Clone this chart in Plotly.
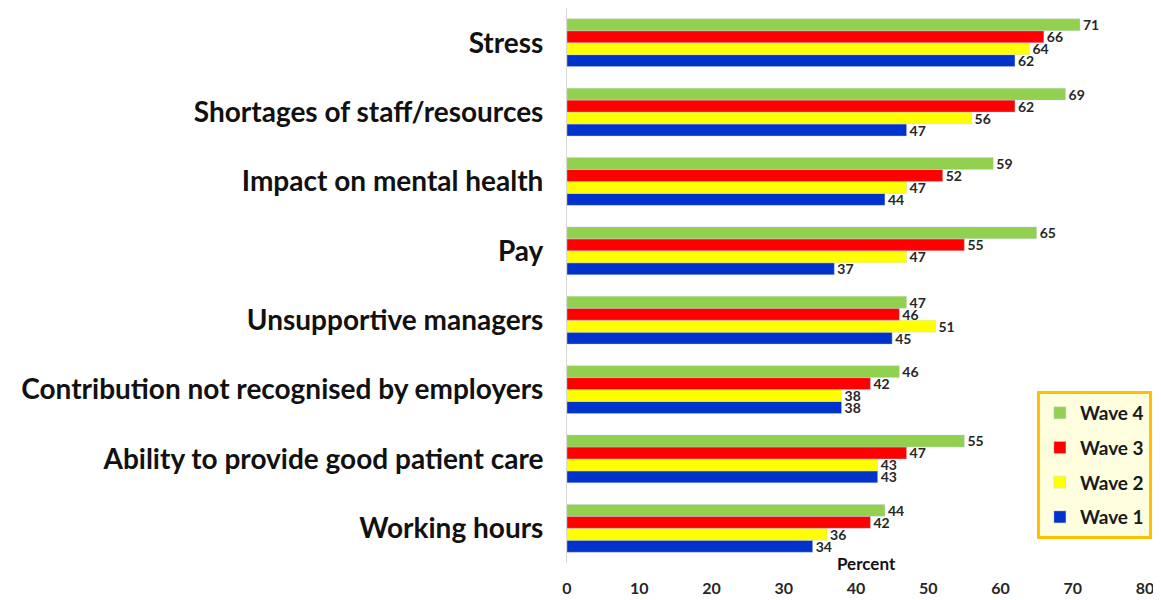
import plotly.graph_objects as go

categories = ["Stress", "Shortages of staff/resources", "Impact on mental health", "Pay",
              "Unsupportive managers", "Contribution not recognised by employers",
              "Ability to provide good patient care", "Working hours"]
wave1 = [62, 47, 44, 37, 45, 38, 43, 34]
wave2 = [64, 56, 47, 47, 51, 38, 43, 36]
wave3 = [66, 62, 52, 55, 46, 42, 47, 42]
wave4 = [71, 69, 59, 65, 47, 46, 55, 44]
x_ticks = [0, 10, 20, 30, 40, 50, 60, 70, 80]

series = [("Wave 1", wave1, "#0033CC"), ("Wave 2", wave2, "#FFFF00"),
          ("Wave 3", wave3, "#FF0000"), ("Wave 4", wave4, "#92D050")]

font = "Lato"

fig = go.Figure()
for i, (name, vals, col) in enumerate(series):
    fig.add_trace(go.Bar(
        y=categories, x=vals, name=name, orientation="h",
        marker=dict(color=col, line=dict(color="rgba(200,210,230,0.8)", width=0.5)),
        text=vals, textposition="outside", cliponaxis=False, constraintext="none",
        textfont=dict(family=font, size=14, color="#262626", weight="bold"),
        legendgroup=name, legendrank=10 - i,
    ))

# page body adds an 8px margin, so the figure is sized 8px smaller
fig.update_layout(
    width=1153, height=592,
    margin=dict(l=559, r=16, t=0, b=37, autoexpand=False),
    barmode="group", bargap=0.31, bargroupgap=0,
    plot_bgcolor="white", paper_bgcolor="white",
    font=dict(family=font, color="#262626"),
    showlegend=True,
    legend=dict(
        x=0.813, y=0.31, xanchor="left", yanchor="top",
        bgcolor="#FFFFE0", bordercolor="#FFC000", borderwidth=3,
        traceorder="grouped", tracegroupgap=7,
        font=dict(family=font, size=19, color="#1a1a1a", weight="bold"),
        itemwidth=30,
    ),
    xaxis=dict(
        range=[0, 80], tickvals=x_ticks, showgrid=False, zeroline=False,
        showline=False, ticks="", ticklabelstandoff=14, automargin=False,
        tickfont=dict(family=font, size=16, color="#262626", weight="bold"),
    ),
    yaxis=dict(
        categoryorder="array", categoryarray=categories[::-1],
        showline=True, linecolor="#d9d9d9", linewidth=1, ticks="",
        ticklabelstandoff=17, automargin=False,
        tickfont=dict(family=font, size=28, color="#111111", weight="bold"),
    ),
    annotations=[dict(
        text="Percent", xref="x", yref="paper", x=41.5, y=0, yanchor="middle",
        showarrow=False, font=dict(family=font, size=17, color="#111111", weight="bold"),
    )],
)

fig.write_html("out.html")
